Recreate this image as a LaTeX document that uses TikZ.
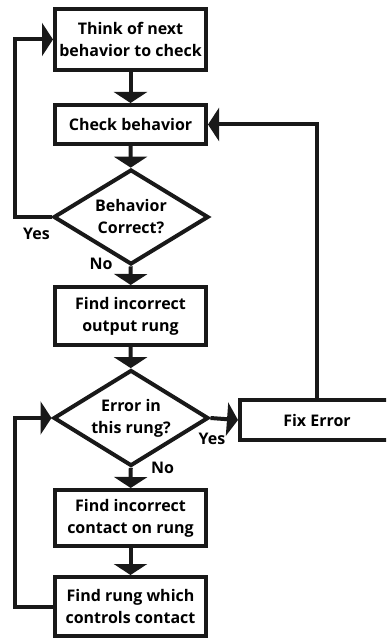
\documentclass[tikz,border=0pt]{standalone}
\usepackage{fontspec}
\setmainfont{Open Sans}
\usetikzlibrary{arrows.meta,shapes.geometric}

\tikzset{
  flow/.style={line width=4pt, draw=black!90, line join=miter},
  stepbox/.style={flow, rectangle, align=center, inner sep=0pt,
    minimum width=151pt, font=\bfseries\fontsize{16}{22}\selectfont},
  decision/.style={flow, diamond, aspect=1.65, inner sep=0pt, align=center,
    minimum width=155pt, minimum height=95pt,
    font=\bfseries\fontsize{16}{22}\selectfont},
  conn/.style={flow, -{Triangle[length=11pt,width=33pt]}},
  answer/.style={font=\bfseries\fontsize{16}{20}\selectfont, inner sep=0pt}
}

\begin{document}
\begin{tikzpicture}[x=1pt, y=-1pt]
  \useasboundingbox (0,0) rectangle (386,639);
  \clip (0,0) rectangle (386,639);

  % main column of steps and decisions
  \node[stepbox, minimum height=61pt] (b1) at (130.5,39.5) {Think of next\\behavior to check};
  \node[stepbox, minimum height=39pt] (b2) at (130.5,124.5) {Check behavior};
  \node[decision] (d1) at (131,217) {Behavior\\Correct?};
  \node[stepbox, minimum height=58pt] (b3) at (130.5,316) {Find incorrect\\output rung};
  \node[decision, minimum height=96pt] (d2) at (131,418) {Error in\\this rung?};
  \node[stepbox, minimum height=56pt] (b4) at (130.5,518) {Find incorrect\\contact on rung};
  \node[stepbox, minimum height=59pt] (b5) at (130.5,606.5) {Find rung which\\controls contact};

  % side step
  \node[stepbox, minimum width=154pt, minimum height=40pt] (fix) at (317,420) {Fix Error};

  % x position of the left return lines
  \coordinate (lx) at (15,0);

  % downward flow
  \draw[conn] (b1) -- (b2);
  \draw[conn] (b2) -- (d1);
  \draw[conn] (d1) -- (b3);
  \draw[conn] (b3) -- (d2);
  \draw[conn] (d2) -- (b4);
  \draw[conn] (b4) -- (b5);

  % loops
  \draw[conn] (d1.west) -- (d1.west -| lx) |- (b1.west);
  \draw[conn] (b5.west) -- (b5.west -| lx) |- (d2.west);
  \draw[conn] (d2.east) -- (fix.west);
  \draw[conn] (fix.north) |- (b2.east);

  % decision answers
  \node[answer] (y1) at (36.5,234) {Yes};
  \node[answer] (n1) at (101,264) {No};
  \node[answer] (y2) at (212,439) {Yes};
  \node[answer] (n2) at (162.5,468) {No};
\end{tikzpicture}
\end{document}
